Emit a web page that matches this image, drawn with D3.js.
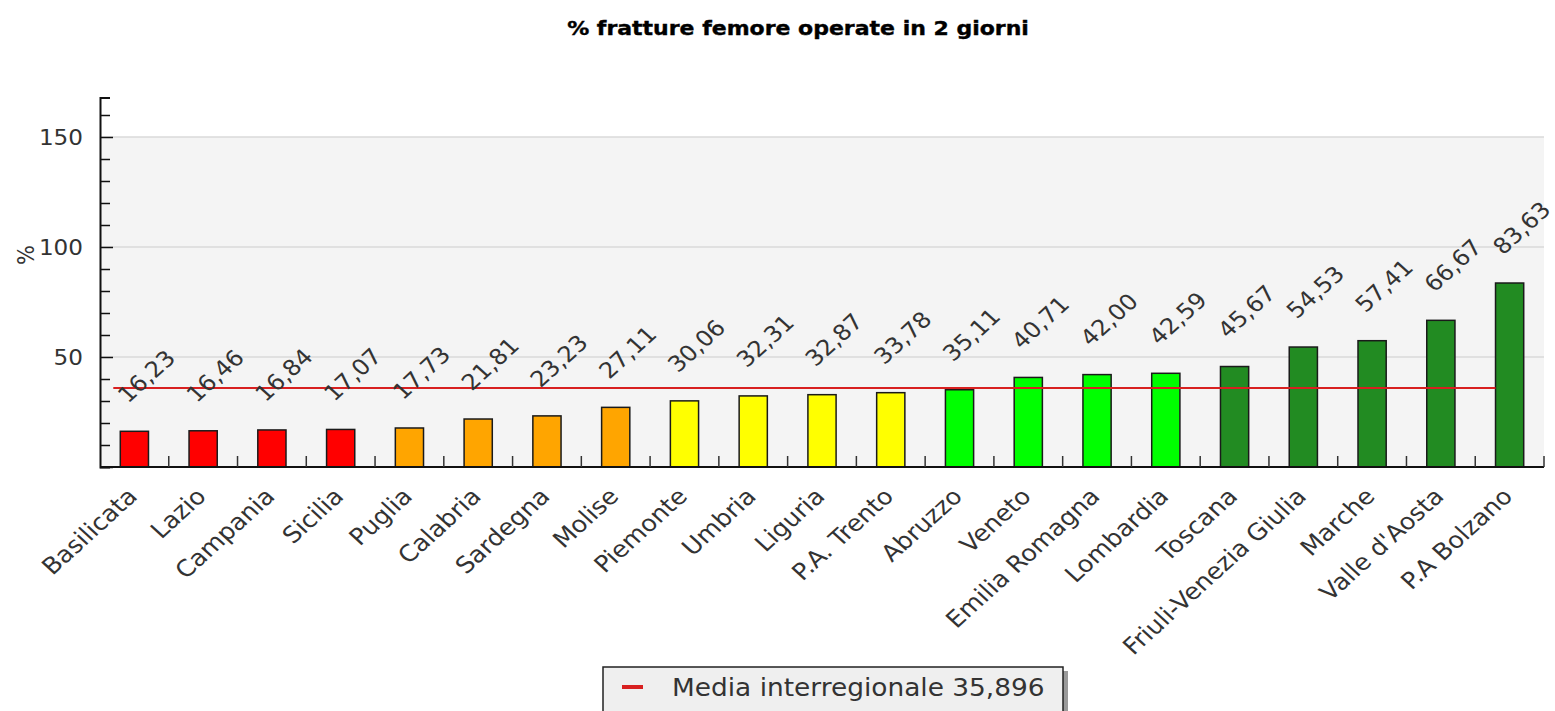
<!DOCTYPE html>
<html>
<head>
<meta charset="utf-8">
<script src="https://cdn.jsdelivr.net/npm/d3@7"></script>
<style>
  body { margin: 0; background: #fff; }
  text { font-family: "DejaVu Sans", Verdana, sans-serif; }
</style>
</head>
<body>
<div id="chart"></div>
<script>
// % fratture femore operate in 2 giorni, per regione
const regioni = ['Basilicata', 'Lazio', 'Campania', 'Sicilia', 'Puglia', 'Calabria', 'Sardegna',
  'Molise', 'Piemonte', 'Umbria', 'Liguria', 'P.A. Trento', 'Abruzzo', 'Veneto', 'Emilia Romagna',
  'Lombardia', 'Toscana', 'Friuli-Venezia Giulia', 'Marche', "Valle d'Aosta", 'P.A Bolzano']
const valori = [16.23, 16.46, 16.84, 17.07, 17.73, 21.81, 23.23, 27.11, 30.06, 32.31, 32.87,
  33.78, 35.11, 40.71, 42.00, 42.59, 45.67, 54.53, 57.41, 66.67, 83.63]
const fasce = ['rosso', 'rosso', 'rosso', 'rosso', 'arancio', 'arancio', 'arancio', 'arancio',
  'giallo', 'giallo', 'giallo', 'giallo', 'verde', 'verde', 'verde', 'verde',
  'verde scuro', 'verde scuro', 'verde scuro', 'verde scuro', 'verde scuro']
const yTicks = [50, 100, 150]
const media = 35.896
const titolo = '% fratture femore operate in 2 giorni'

const width = 1555
const height = 711
const stretch = 1.1   // the picture is a bit wider than tall

const data = regioni.map((r, i) => ({ regione: r, valore: valori[i], fascia: fasce[i] }))
const fmt = (v, d) => v.toFixed(d).replace('.', ',')

const colore = d3.scaleOrdinal()
  .domain(['rosso', 'arancio', 'giallo', 'verde', 'verde scuro'])
  .range(['#ff0000', '#ffa500', '#ffff00', '#00ff00', '#228b22'])

const svg = d3.select('#chart')
  .append('svg')
  .attr('width', width)
  .attr('height', height)

const x = d3.scaleBand()
  .domain(regioni)
  .range([100, 1544])
  .paddingInner(0.59)
  .paddingOuter(0.295)

const y = d3.scaleLinear()
  .domain([0, 168])
  .range([467, 97.4])

// title
svg.append('text')
  .attr('transform', `translate(${798},${35}) scale(${stretch},1)`)
  .attr('text-anchor', 'middle')
  .attr('font-size', 20)
  .attr('font-weight', 'bold')
  .attr('fill', '#000')
  .attr('stroke', '#000')
  .attr('stroke-width', 0.4)
  .text(titolo)

// plot background (only up to the highest grid line)
svg.append('rect')
  .attr('x', 100)
  .attr('y', y(150))
  .attr('width', 1544 - 100)
  .attr('height', y(0) - y(150))
  .attr('fill', '#f4f4f4')

// grid lines
svg.append('g')
  .selectAll('line')
  .data(yTicks)
  .join('line')
  .attr('x1', 100)
  .attr('x2', 1544)
  .attr('y1', (d) => y(d))
  .attr('y2', (d) => y(d))
  .attr('stroke', '#dadada')
  .attr('stroke-width', 1.5)

// bars
svg.append('g')
  .selectAll('rect')
  .data(data)
  .join('rect')
  .attr('x', (d) => x(d.regione))
  .attr('y', (d) => y(d.valore))
  .attr('width', x.bandwidth())
  .attr('height', (d) => y(0) - y(d.valore))
  .attr('fill', (d) => colore(d.fascia))
  .attr('stroke', '#1a1a1a')
  .attr('stroke-width', 1.5)

// mean line
svg.append('line')
  .attr('x1', x(regioni[0]) - 7)
  .attr('x2', x(regioni[regioni.length - 1]))
  .attr('y1', y(media))
  .attr('y2', y(media))
  .attr('stroke', '#d82020')
  .attr('stroke-width', 2)

// value labels
svg.append('g')
  .selectAll('text')
  .data(data)
  .join('text')
  .attr('transform', (d) => {
    const cx = x(d.regione) + x.bandwidth() / 2 + 12
    const cy = y(d.valore) - 55
    return `translate(${cx},${cy}) scale(${stretch},1) rotate(-45)`
  })
  .attr('text-anchor', 'middle')
  .attr('dy', '0.35em')
  .attr('font-size', 22)
  .attr('fill', '#333')
  .text((d) => fmt(d.valore, 2))

// y axis
const yAxis = d3.axisLeft(y)
  .tickValues(d3.range(0, 161, 10))
  .tickSize(-10)
  .tickFormat('')
const gy = svg.append('g')
  .attr('transform', 'translate(100,0)')
  .call(yAxis)
gy.select('.domain').attr('stroke', '#111').attr('stroke-width', 2)
gy.selectAll('.tick line').attr('stroke', '#111').attr('stroke-width', 1.5)
gy.selectAll('.tick line').filter((d) => d % 50 === 0).attr('x2', 13)

svg.append('g')
  .selectAll('text')
  .data(yTicks)
  .join('text')
  .attr('transform', (d) => `translate(83,${y(d)}) scale(${stretch},1)`)
  .attr('text-anchor', 'end')
  .attr('dy', '0.36em')
  .attr('font-size', 21)
  .attr('fill', '#333')
  .text((d) => d)

svg.append('text')
  .attr('transform', `translate(26,255) scale(${stretch},1) rotate(-90)`)
  .attr('text-anchor', 'middle')
  .attr('dy', '0.35em')
  .attr('font-size', 21)
  .attr('fill', '#333')
  .text('%')

// x axis: line plus ticks between bars
svg.append('line')
  .attr('x1', 100)
  .attr('x2', 1544)
  .attr('y1', y(0))
  .attr('y2', y(0))
  .attr('stroke', '#111')
  .attr('stroke-width', 2)

svg.append('g')
  .selectAll('line')
  .data(regioni)
  .join('line')
  .attr('x1', (d) => x(d) + x.bandwidth() + x.step() * x.paddingInner() / 2)
  .attr('x2', (d) => x(d) + x.bandwidth() + x.step() * x.paddingInner() / 2)
  .attr('y1', y(0))
  .attr('y2', y(0) - 11)
  .attr('stroke', '#333')
  .attr('stroke-width', 1.5)

svg.append('g')
  .selectAll('text')
  .data(regioni)
  .join('text')
  .attr('transform', (d) => {
    const cx = x(d) + x.bandwidth() / 2 - 2
    return `translate(${cx},492) scale(${stretch},1) rotate(-45)`
  })
  .attr('text-anchor', 'end')
  .attr('dy', '0.35em')
  .attr('font-size', 23)
  .attr('fill', '#333')
  .text((d) => d)

// legend
const legend = svg.append('g').attr('transform', 'translate(603,667)')
legend.append('rect')
  .attr('x', 5)
  .attr('y', 4)
  .attr('width', 460)
  .attr('height', 60)
  .attr('fill', '#9a9a9a')
legend.append('rect')
  .attr('x', 0)
  .attr('y', 0)
  .attr('width', 460)
  .attr('height', 60)
  .attr('fill', '#efefef')
  .attr('stroke', '#222')
  .attr('stroke-width', 1.5)
legend.append('line')
  .attr('x1', 19)
  .attr('x2', 40)
  .attr('y1', 20)
  .attr('y2', 20)
  .attr('stroke', '#d82020')
  .attr('stroke-width', 4)
legend.append('text')
  .attr('transform', `translate(69,20) scale(${stretch},1)`)
  .attr('dy', '0.36em')
  .attr('font-size', 24)
  .attr('fill', '#333')
  .text('Media interregionale ' + fmt(media, 3))
</script>
</body>
</html>
